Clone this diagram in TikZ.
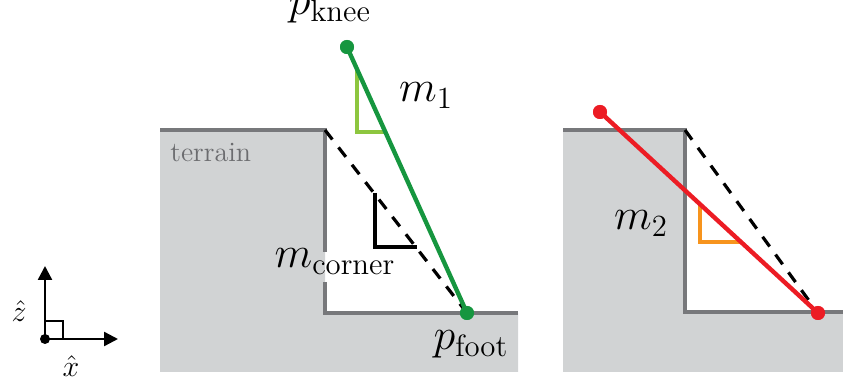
\RequirePackage{fix-cm}
\documentclass[tikz,border=0pt]{standalone}
\usepackage{xcolor}
\usepackage{tikz}
\usetikzlibrary{arrows.meta}
\definecolor{ground}{HTML}{D1D3D4}
\definecolor{rim}{HTML}{77787B}
\definecolor{legone}{HTML}{16963F}
\definecolor{legtwo}{HTML}{EC1C24}
\definecolor{tickone}{HTML}{8DC63F}
\definecolor{ticktwo}{HTML}{F7941D}

\begin{document}
\begin{tikzpicture}[x=0.5pt,y=-0.5pt,
  terrainedge/.style={draw=rim,line width=2pt},
  leg/.style={line width=2.2pt},
  joint/.style={circle,fill,inner sep=0pt,minimum size=7pt},
  slopemark/.style={line width=1.6pt},
  cornerline/.style={line width=1.6pt,dash pattern=on 6pt off 5pt},
  axis/.style={line width=1.2pt,-{Triangle[length=7pt,width=7pt]}},
  lbl/.style={anchor=base,inner sep=0pt,font=\fontsize{22}{26}\selectfont}]
\useasboundingbox (0,0) rectangle (843,385);

\fill[ground] (160,130) -- (325,130) -- (325,313) -- (518,313) -- (518,372) -- (160,372) -- cycle;
\fill[ground] (563,130) -- (685,130) -- (685,312) -- (843,312) -- (843,372) -- (563,372) -- cycle;
\draw[terrainedge] (160,130) -- (325,130) -- (325,252);
\draw[terrainedge] (325,282) -- (325,313) -- (518,313);
\draw[terrainedge] (563,130) -- (685,130) -- (685,312) -- (843,312);
\node[anchor=west,inner sep=0pt,text=rim!90!black,font=\fontsize{14}{16}\selectfont] (terrain) at (170,153) {terrain};

\coordinate (cornerA) at (325,130);
\coordinate (cornerB) at (685,130);
\node[joint,legone] (kneeA) at (347,47) {};
\node[joint,legone] (footA) at (467,313) {};
\node[joint,legtwo] (kneeB) at (600,112) {};
\node[joint,legtwo] (footB) at (818,313) {};

\draw[cornerline] (cornerA) -- (footA.center);
\draw[cornerline] (cornerB) -- (footB.center);

\draw[slopemark,tickone] (357,70) -- (357,132) -- (385,132);
\draw[slopemark] (375,193) -- (375,247) -- (417,247);
\draw[slopemark,ticktwo] (700,205) -- (700,242) -- (740,242);

\draw[leg,legone] (kneeA.center) -- (footA.center);
\draw[leg,legtwo] (kneeB.center) -- (footB.center);
\node[joint,legone] at (kneeA) {};
\node[joint,legone] at (footA) {};
\node[joint,legtwo] at (kneeB) {};
\node[joint,legtwo] at (footB) {};

\node[lbl] (kneelbl) at (330,15) {$p_{\mathrm{knee}}$};
\node[lbl] (footlbl) at (471,350) {$p_{\mathrm{foot}}$};
\node[lbl] (mone) at (426,102) {$m_1$};
\node[lbl] (mcorner) at (335,268) {$m_{\mathrm{corner}}$};
\node[lbl] (mtwo) at (641,230) {$m_2$};

\node[circle,fill,inner sep=0pt,minimum size=5pt] (origin) at (45,339) {};
\coordinate (ztip) at (45,266);
\coordinate (xtip) at (118,339);
\draw[axis] (origin.center) -- (ztip);
\draw[axis] (origin.center) -- (xtip);
\draw[line width=1pt] (45,321) -- (63,321) -- (63,339);
\node[font=\fontsize{15}{18}\selectfont] (zlbl) at (19,311) {$\hat{z}$};
\node[font=\fontsize{15}{18}\selectfont] (xlbl) at (71,366) {$\hat{x}$};
\end{tikzpicture}
\end{document}
